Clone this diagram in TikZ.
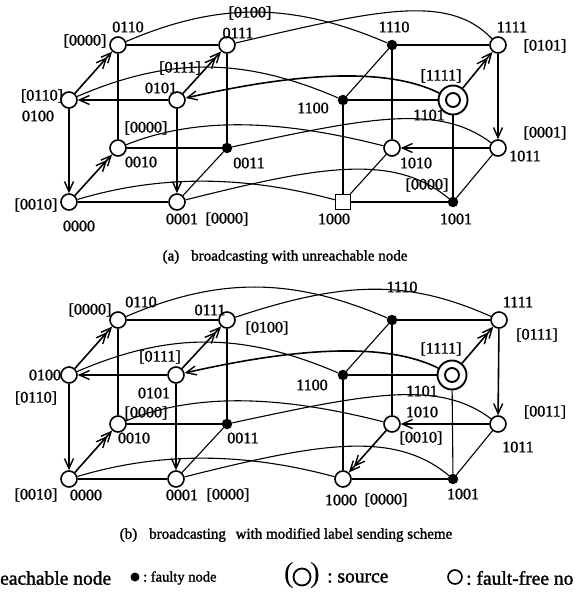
\documentclass[tikz,border=0pt]{standalone}
\usepackage{fontspec}
\setmainfont{Liberation Serif}
\newfontfamily\scanfont{Liberation Serif}[FakeBold=1.5]
\usetikzlibrary{arrows.meta}

\tikzset{
  ff/.style={circle,draw,line width=1.6pt,minimum size=16pt,inner sep=0pt,fill=white},
  faulty/.style={circle,fill=black,minimum size=10.5pt,inner sep=0pt},
  src/.style={circle,draw,line width=1.9pt,minimum size=29pt,inner sep=0pt,fill=white,
    path picture={\draw[line width=1.9pt] (path picture bounding box.center) circle (7pt);}},
  unr/.style={rectangle,draw,line width=1.3pt,minimum size=15pt,inner sep=0pt,fill=white},
  link/.style={line width=1.1pt},
  arr/.style={line width=1.6pt,-{Straight Barb[length=10pt,width=9pt,line width=1.4pt]}},
  darr/.style={line width=1.6pt,-{Straight Barb[length=10pt,width=9pt,line width=1.4pt,sep=-5pt]Straight Barb[length=10pt,width=9pt,line width=1.4pt]}},
  lbl/.style={font=\scanfont\fontsize{16}{18}\selectfont,inner sep=0pt},
  captxt/.style={font=\scanfont\fontsize{15}{17}\selectfont,inner sep=0pt},
  bigtxt/.style={font=\scanfont\fontsize{19.5}{22}\selectfont,inner sep=0pt},
  smalltxt/.style={font=\scanfont\fontsize{14.5}{16}\selectfont,inner sep=0pt}
}

\begin{document}
\begin{tikzpicture}[x=1pt,y=1pt]
\useasboundingbox (0,0) rectangle (574,-596);

% ---------- (a) ----------
\node[ff] (a0110) at (118,-45) {};  \node[ff] (a0111) at (227,-45) {};
\node[faulty] (a1110) at (392,-45) {}; \node[ff] (a1111) at (498,-45) {};
\node[ff] (a0100) at (69,-100) {};  \node[ff] (a0101) at (177,-100) {};
\node[faulty] (a1100) at (343,-100) {}; \node[src] (a1101) at (453,-100) {};
\node[ff] (a0010) at (118,-148) {}; \node[faulty] (a0011) at (227,-148) {};
\node[ff] (a1010) at (392,-148) {}; \node[ff] (a1011) at (498,-148) {};
\node[ff] (a0000) at (69,-202) {};  \node[ff] (a0001) at (177,-202) {};
\node[unr] (a1000) at (343,-202) {}; \node[faulty] (a1001) at (453,-202) {};

\node[lbl] (la0110) at (128,-27) {0110}; \node[lbl] (ka0110) at (85,-41) {[0000]};
\node[lbl] (la0111) at (238,-33) {0111}; \node[lbl] (ka0111) at (250,-13) {[0100]};
\node[lbl] (la0101) at (161,-88) {0101}; \node[lbl] (ka0101) at (180,-68) {[0111]};
\node[lbl] (la0100) at (38,-116) {0100}; \node[lbl] (ka0100) at (42,-96) {[0110]};
\node[lbl] (la0010) at (141,-162) {0010}; \node[lbl] (ka0010) at (146,-128) {[0000]};
\node[lbl] (la0011) at (249,-163) {0011};
\node[lbl] (la0000) at (79,-226) {0000}; \node[lbl] (ka0000) at (36,-205) {[0010]};
\node[lbl] (la0001) at (182,-219) {0001}; \node[lbl] (ka0001) at (227,-219) {[0000]};
\node[lbl] (la1110) at (394,-27) {1110};
\node[lbl] (la1111) at (512,-27) {1111}; \node[lbl] (ka1111) at (545,-46) {[0101]};
\node[lbl] (la1100) at (313,-108) {1100};
\node[lbl] (la1101) at (429,-115) {1101}; \node[lbl] (ka1101) at (441,-76) {[1111]};
\node[lbl] (la1011) at (525,-156) {1011}; \node[lbl] (ka1011) at (545,-133) {[0001]};
\node[lbl] (la1010) at (416,-163) {1010}; \node[lbl] (ka1010) at (427,-185) {[0000]};
\node[lbl] (la1000) at (334,-219) {1000};
\node[lbl] (la1001) at (456,-219) {1001};

% cube 0xxx
\draw[link] (a0110) -- (a0111);
\draw[link] (a0010) -- (a0011);
\draw[link] (a0000) -- (a0001);
\draw[link] (a0110) -- (a0010);
\draw[link] (a0111) -- (a0011);
\draw[link] (a0001) -- (a0011);
% cube 1xxx
\draw[link] (a1110) -- (a1111);
\draw[link] (a1100) -- (a1101);
\draw[link] (a1000) -- (a1001);
\draw[link] (a1100) -- (a1000);
\draw[link] (a1110) -- (a1010);
\draw[link] (a1101) -- (a1001);
\draw[link] (a1100) -- (a1110);
\draw[link] (a1000) -- (a1010);
\draw[link] (a1001) -- (a1011);
% first dimension
\draw[link] (a0110) .. controls +(100,43) and +(-100,43) .. (a1110);
\draw[link] (a0111) .. controls +(150,35) and +(-50,52) .. (a1111);
\draw[link] (a0100) .. controls +(100,43) and +(-100,43) .. (a1100);
\draw[link] (a0010) .. controls +(80,32) and +(-110,28) .. (a1010);
\draw[link] (a0011) .. controls +(140,30) and +(-60,45) .. (a1011);
\draw[link] (a0000) .. controls +(90,27) and +(-100,27) .. (a1000);
\draw[link] (a0001) .. controls +(140,35) and +(-60,50) .. (a1001);
% broadcast
\draw[darr] (a0100) -- (a0110);
\draw[darr] (a0101) -- (a0111);
\draw[arr] (a0101) -- (a0100);
\draw[arr] (a0100) -- (a0000);
\draw[darr] (a0000) -- (a0010);
\draw[arr] (a0101) -- (a0001);
\draw[arr] (a1101) .. controls +(-70,35) and +(110,25) .. (a0101);
\draw[darr] (a1101) -- (a1111);
\draw[arr] (a1111) -- (a1011);
\draw[arr] (a1011) -- (a1010);

\node[captxt] (capa) at (285,-257) {(a)\hspace{0.8em}broadcasting with unreachable node};

% ---------- (b) ----------
\node[ff] (b0110) at (118,-320) {};  \node[ff] (b0111) at (227,-320) {};
\node[faulty] (b1110) at (392,-320) {}; \node[ff] (b1111) at (499,-320) {};
\node[ff] (b0100) at (69,-375) {};  \node[ff] (b0101) at (176,-375) {};
\node[faulty] (b1100) at (343,-375) {}; \node[src] (b1101) at (452,-375) {};
\node[ff] (b0010) at (118,-424) {}; \node[faulty] (b0011) at (227,-424) {};
\node[ff] (b1010) at (392,-424) {}; \node[ff] (b1011) at (498,-424) {};
\node[ff] (b0000) at (69,-479) {};  \node[ff] (b0001) at (176,-479) {};
\node[ff] (b1000) at (343,-479) {}; \node[faulty] (b1001) at (453,-479) {};

\node[lbl] (lb0110) at (141,-302) {0110}; \node[lbl] (kb0110) at (90,-310) {[0000]};
\node[lbl] (lb0111) at (210,-310) {0111}; \node[lbl] (kb0111) at (267,-328) {[0100]};
\node[lbl] (lb0101) at (154,-393) {0101}; \node[lbl] (kb0101) at (160,-357) {[0111]};
\node[lbl] (lb0100) at (45,-375) {0100}; \node[lbl] (kb0100) at (36,-398) {[0110]};
\node[lbl] (lb0010) at (134,-438) {0010}; \node[lbl] (kb0010) at (146,-413) {[0000]};
\node[lbl] (lb0011) at (243,-438) {0011};
\node[lbl] (lb0000) at (86,-495) {0000}; \node[lbl] (kb0000) at (36,-495) {[0010]};
\node[lbl] (lb0001) at (182,-495) {0001}; \node[lbl] (kb0001) at (228,-495) {[0000]};
\node[lbl] (lb1110) at (402,-287) {1110};
\node[lbl] (lb1111) at (518,-302) {1111}; \node[lbl] (kb1111) at (537,-335) {[0111]};
\node[lbl] (lb1100) at (312,-385) {1100};
\node[lbl] (lb1101) at (422,-391) {1101}; \node[lbl] (kb1101) at (441,-349) {[1111]};
\node[lbl] (lb1010) at (422,-412) {1010}; \node[lbl] (kb1010) at (421,-438) {[0010]};
\node[lbl] (lb1011) at (518,-447) {1011}; \node[lbl] (kb1011) at (545,-412) {[0011]};
\node[lbl] (lb1000) at (341,-500) {1000}; \node[lbl] (kb1000) at (386,-500) {[0000]};
\node[lbl] (lb1001) at (463,-494) {1001};

% cube 0xxx
\draw[link] (b0110) -- (b0111);
\draw[link] (b0010) -- (b0011);
\draw[link] (b0000) -- (b0001);
\draw[link] (b0110) -- (b0010);
\draw[link] (b0111) -- (b0011);
\draw[link] (b0001) -- (b0011);
% cube 1xxx
\draw[link] (b1110) -- (b1111);
\draw[link] (b1100) -- (b1101);
\draw[link] (b1000) -- (b1001);
\draw[link] (b1100) -- (b1000);
\draw[link] (b1110) -- (b1010);
\draw[link] (b1101) -- (b1001);
\draw[link] (b1100) -- (b1110);
\draw[link] (b1001) -- (b1011);
% first dimension
\draw[link] (b0110) .. controls +(100,43) and +(-100,43) .. (b1110);
\draw[link] (b0111) .. controls +(120,40) and +(-90,40) .. (b1111);
\draw[link] (b0100) .. controls +(100,43) and +(-100,43) .. (b1100);
\draw[link] (b0010) .. controls +(80,32) and +(-110,28) .. (b1010);
\draw[link] (b0011) .. controls +(140,30) and +(-60,45) .. (b1011);
\draw[link] (b0000) .. controls +(90,27) and +(-100,27) .. (b1000);
\draw[link] (b0001) .. controls +(140,35) and +(-60,50) .. (b1001);
% broadcast
\draw[darr] (b0100) -- (b0110);
\draw[darr] (b0101) -- (b0111);
\draw[arr] (b0101) -- (b0100);
\draw[arr] (b0100) -- (b0000);
\draw[darr] (b0000) -- (b0010);
\draw[arr] (b0101) -- (b0001);
\draw[arr] (b1101) .. controls +(-70,35) and +(110,25) .. (b0101);
\draw[darr] (b1101) -- (b1111);
\draw[arr] (b1111) -- (b1011);
\draw[arr] (b1011) -- (b1010);
\draw[darr] (b1010) -- (b1000);

\node[captxt] (capb) at (286,-535) {(b)\hspace{0.8em}broadcasting\hspace{0.4em} with modified label sending scheme};

% ---------- legend ----------
\node[bigtxt,anchor=west] (lgunr) at (0,-578) {eachable node};
\node[faulty,minimum size=9pt] (lgfty) at (135,-577) {};
\node[smalltxt,anchor=west] (lgftyt) at (143,-578) {:\ faulty node};
\node[font=\fontsize{29}{31}\selectfont,inner sep=0pt] (lgpl) at (289,-576) {(};
\node[ff,minimum size=17pt,line width=1.8pt] (lgsrc) at (302,-577) {};
\node[font=\fontsize{29}{31}\selectfont,inner sep=0pt] (lgpr) at (315,-576) {)};
\node[bigtxt,anchor=west] (lgsrct) at (327,-578) {:\ source};
\node[ff,minimum size=14pt] (lgff) at (455,-577) {};
\node[bigtxt,anchor=west] (lgfft) at (466,-578) {:\ fault-free no};
\end{tikzpicture}
\end{document}
